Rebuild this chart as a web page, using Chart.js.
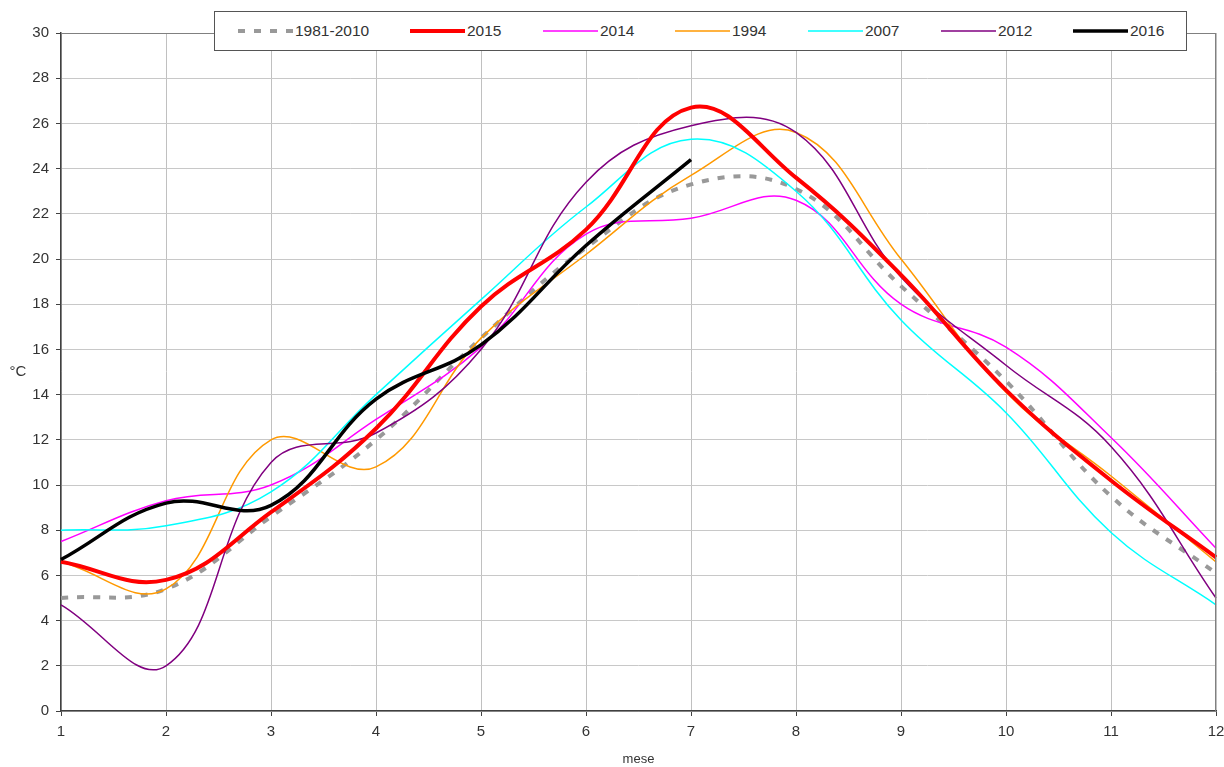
<!DOCTYPE html>
<html>
<head>
<meta charset="utf-8">
<script src="https://cdn.jsdelivr.net/npm/chart.js@4/dist/chart.umd.min.js"></script>
<style>
  html, body { margin: 0; padding: 0; background: #fff; }
  #wrap { position: relative; width: 1224px; height: 767px; }
  #legend {
    position: absolute; left: 214px; top: 11px; width: 971px; height: 38px;
    border: 1px solid #555; background: #fff;
    font-family: 'Liberation Sans', Arial, sans-serif; font-size: 15.5px; color: #333;
  }
  .item { position: absolute; top: 11px; height: 16px; line-height: 16px; white-space: nowrap; }
  .item svg { position: absolute; left: 0; top: 0; }
  .item span { position: absolute; left: 57px; top: 0; }
</style>
</head>
<body>
<div id="wrap">
  <canvas id="myChart" width="1224" height="767"></canvas>
  <div id="legend"></div>
</div>
<script>
const months = ['1','2','3','4','5','6','7','8','9','10','11','12'];
const yTicks = [0,2,4,6,8,10,12,14,16,18,20,22,24,26,28,30];

const norm8110 = [5.0, 5.4, 8.6, 12.0, 16.5, 20.5, 23.3, 23.1, 18.8, 14.6, 9.5, 6.1];
const y2015 = [6.6, 5.8, 8.8, 12.5, 17.9, 21.3, 26.7, 23.6, 19.3, 14.2, 10.2, 6.8];
const y2014 = [7.5, 9.3, 10.0, 12.9, 16.1, 21.1, 21.8, 22.6, 18.0, 16.1, 12.1, 7.2];
const y1994 = [6.6, 5.4, 12.0, 10.8, 16.5, 20.2, 23.7, 25.6, 20.0, 14.1, 10.4, 6.6];
const y2007 = [8.0, 8.2, 9.7, 14.0, 18.2, 22.3, 25.3, 23.0, 17.3, 13.2, 7.9, 4.7];
const y2012 = [4.7, 2.0, 11.0, 12.3, 16.0, 23.4, 25.9, 25.6, 19.2, 15.3, 11.7, 5.0];
const y2016 = [6.7, 9.2, 9.1, 13.8, 16.2, 20.6, 24.4];

const series = [
  {label: '1981-2010', data: norm8110, color: '#999999', width: 4, dash: [7, 9], order: 6},
  {label: '2015', data: y2015, color: '#ff0000', width: 4, dash: [], order: 1},
  {label: '2014', data: y2014, color: '#ff00ff', width: 1.5, dash: [], order: 5},
  {label: '1994', data: y1994, color: '#ff9900', width: 1.5, dash: [], order: 4},
  {label: '2007', data: y2007, color: '#00ffff', width: 1.5, dash: [], order: 3},
  {label: '2012', data: y2012, color: '#800080', width: 1.5, dash: [], order: 2},
  {label: '2016', data: y2016, color: '#000000', width: 3.5, dash: [], order: 0}
];
// where each legend entry starts inside the box
const legendX = [23, 195, 328, 460, 593, 726, 858];

const FONT = 'Liberation Sans';

const frame = {
  id: 'frame',
  afterDraw(chart) {
    const a = chart.chartArea, c = chart.ctx;
    c.save();
    c.strokeStyle = '#808080';
    c.lineWidth = 1;
    c.beginPath();
    c.moveTo(a.left, a.top + 0.5); c.lineTo(a.right, a.top + 0.5);
    c.moveTo(a.right - 0.5, a.top); c.lineTo(a.right - 0.5, a.bottom);
    c.stroke();
    c.fillStyle = '#333';
    c.font = '15px "' + FONT + '"';
    c.textAlign = 'center';
    c.textBaseline = 'middle';
    c.fillText('°C', 18, 372);
    c.restore();
  }
};

const ctx = document.getElementById('myChart').getContext('2d');
const myChart = new Chart(ctx, {
  type: 'line',
  data: {
    labels: months,
    datasets: series.map(s => ({
      label: s.label,
      data: s.data,
      borderColor: s.color,
      backgroundColor: s.color,
      borderWidth: s.width,
      borderDash: s.dash,
      pointRadius: 0,
      tension: 0.4,
      fill: false,
      order: s.order
    }))
  },
  options: {
    responsive: false,
    animation: false,
    layout: {padding: {top: 33, right: 0, left: 0, bottom: 0}},
    plugins: {legend: {display: false}, tooltip: {enabled: false}},
    scales: {
      x: {
        offset: false,
        afterFit: s => { s.height = 56; s.paddingRight = 8; },
        grid: {color: '#c0c0c0', tickLength: 5, tickColor: '#404040'},
        border: {color: '#404040', width: 1.5},
        ticks: {color: '#333', font: {family: FONT, size: 15}, padding: 7, maxRotation: 0},
        title: {display: true, text: 'mese', color: '#333', font: {family: FONT, size: 13}, padding: {top: 0, bottom: 0}}
      },
      y: {
        min: 0, max: 30,
        afterBuildTicks: s => { s.ticks = yTicks.map(v => ({value: v})); },
        afterFit: s => { s.width = 61; },
        grid: {color: '#c8c8c8', tickLength: 5, tickColor: '#404040'},
        border: {color: '#404040', width: 1.5},
        ticks: {color: '#333', font: {family: FONT, size: 15}, padding: 7}
      }
    }
  },
  plugins: [frame]
});

// legend box like the original
const legend = document.getElementById('legend');
series.forEach((s, i) => {
  const d = document.createElement('div');
  d.className = 'item';
  d.style.left = legendX[i] + 'px';
  const dash = s.dash.length ? ' stroke-dasharray="' + s.dash.join(' ') + '"' : '';
  d.innerHTML = '<svg width="56" height="16"><line x1="0" y1="8" x2="55" y2="8" stroke="' + s.color +
    '" stroke-width="' + s.width + '"' + dash + '/></svg><span>' + s.label + '</span>';
  legend.appendChild(d);
});
</script>
</body>
</html>
